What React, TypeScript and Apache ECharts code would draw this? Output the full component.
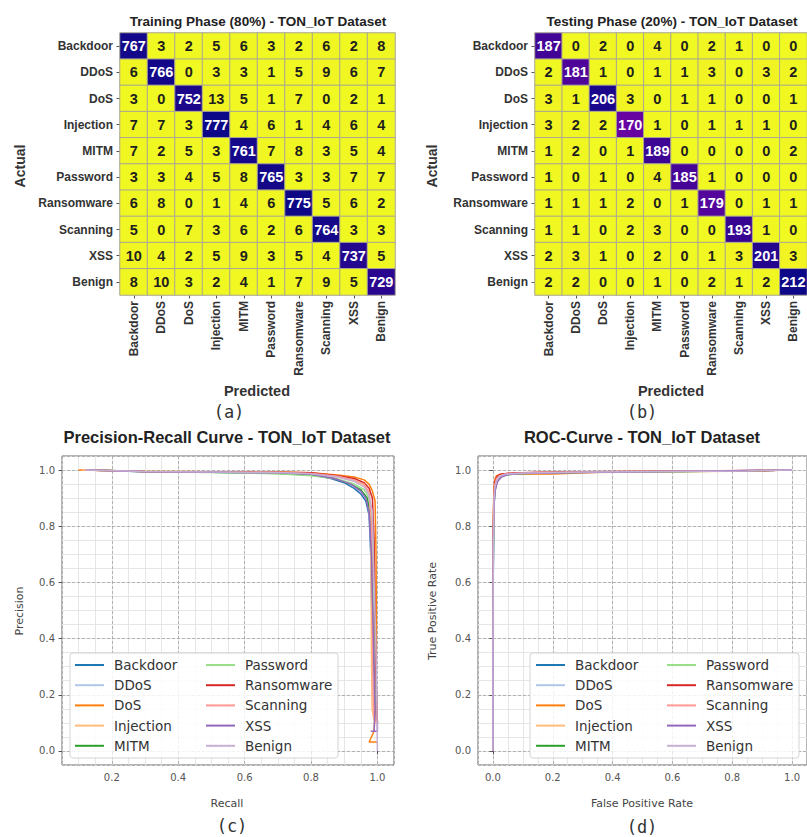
import React, { useEffect, useRef } from 'react';
import * as echarts from 'echarts';

const CLASSES = ['Backdoor', 'DDoS', 'DoS', 'Injection', 'MITM', 'Password', 'Ransomware', 'Scanning', 'XSS', 'Benign'];
const COLORS = ['#1f77b4', '#aec7e8', '#ff7f0e', '#ffbb78', '#2ca02c', '#98df8a', '#d62728', '#ff9896', '#9467bd', '#c5b0d5'];

const TRAIN_CM = [
  [767, 3, 2, 5, 6, 3, 2, 6, 2, 8],
  [6, 766, 0, 3, 3, 1, 5, 9, 6, 7],
  [3, 0, 752, 13, 5, 1, 7, 0, 2, 1],
  [7, 7, 3, 777, 4, 6, 1, 4, 6, 4],
  [7, 2, 5, 3, 761, 7, 8, 3, 5, 4],
  [3, 3, 4, 5, 8, 765, 3, 3, 7, 7],
  [6, 8, 0, 1, 4, 6, 775, 5, 6, 2],
  [5, 0, 7, 3, 6, 2, 6, 764, 3, 3],
  [10, 4, 2, 5, 9, 3, 5, 4, 737, 5],
  [8, 10, 3, 2, 4, 1, 7, 9, 5, 729],
];

const TEST_CM = [
  [187, 0, 2, 0, 4, 0, 2, 1, 0, 0],
  [2, 181, 1, 0, 1, 1, 3, 0, 3, 2],
  [3, 1, 206, 3, 0, 1, 1, 0, 0, 1],
  [3, 2, 2, 170, 1, 0, 1, 1, 1, 0],
  [1, 2, 0, 1, 189, 0, 0, 0, 0, 2],
  [1, 0, 1, 0, 4, 185, 1, 0, 0, 0],
  [1, 1, 1, 2, 0, 1, 179, 0, 1, 1],
  [1, 1, 0, 2, 3, 0, 0, 193, 1, 0],
  [2, 3, 1, 0, 2, 0, 1, 3, 201, 3],
  [2, 2, 0, 0, 1, 0, 2, 1, 2, 212],
];

// Precision-Recall curves: [recall, precision]
const PR_BACKDOOR = [[0.13, 1.0], [0.3, 0.994], [0.5, 0.992], [0.7, 0.99], [0.8, 0.984], [0.86, 0.97], [0.9, 0.955], [0.93, 0.935], [0.95, 0.915], [0.965, 0.89], [0.975, 0.84], [0.98, 0.7], [0.983, 0.5], [0.987, 0.3], [0.992, 0.18], [1.0, 0.1]];
const PR_DDOS = [[0.12, 1.0], [0.3, 0.995], [0.5, 0.993], [0.7, 0.991], [0.8, 0.986], [0.87, 0.972], [0.92, 0.95], [0.95, 0.925], [0.97, 0.89], [0.978, 0.82], [0.982, 0.6], [0.986, 0.35], [0.99, 0.2], [1.0, 0.1]];
const PR_DOS = [[0.1, 1.0], [0.3, 0.996], [0.5, 0.994], [0.7, 0.993], [0.8, 0.99], [0.88, 0.982], [0.93, 0.975], [0.96, 0.965], [0.975, 0.95], [0.985, 0.925], [0.993, 0.89], [0.996, 0.7], [0.997, 0.45], [0.996, 0.2], [0.99, 0.07], [0.975, 0.032], [0.995, 0.032], [1.0, 0.03]];
const PR_INJECTION = [[0.11, 1.0], [0.3, 0.995], [0.5, 0.993], [0.7, 0.991], [0.8, 0.987], [0.88, 0.975], [0.93, 0.96], [0.96, 0.945], [0.975, 0.92], [0.98, 0.86], [0.981, 0.6], [0.982, 0.35], [0.984, 0.15], [0.99, 0.11], [1.0, 0.1]];
const PR_MITM = [[0.14, 1.0], [0.3, 0.995], [0.5, 0.992], [0.7, 0.988], [0.8, 0.982], [0.87, 0.97], [0.92, 0.95], [0.95, 0.93], [0.97, 0.9], [0.98, 0.82], [0.985, 0.6], [0.987, 0.42], [0.99, 0.3], [0.995, 0.2], [1.0, 0.1]];
const PR_PASSWORD = [[0.12, 1.0], [0.3, 0.994], [0.5, 0.991], [0.7, 0.987], [0.8, 0.98], [0.88, 0.968], [0.93, 0.95], [0.96, 0.93], [0.975, 0.9], [0.985, 0.8], [0.99, 0.5], [0.992, 0.38], [0.995, 0.2], [1.0, 0.1]];
const PR_RANSOMWARE = [[0.12, 1.0], [0.3, 0.995], [0.5, 0.993], [0.7, 0.992], [0.8, 0.99], [0.88, 0.98], [0.93, 0.97], [0.96, 0.955], [0.975, 0.935], [0.985, 0.9], [0.99, 0.75], [0.993, 0.5], [0.995, 0.3], [1.0, 0.1]];
const PR_SCANNING = [[0.12, 1.0], [0.3, 0.995], [0.5, 0.993], [0.7, 0.991], [0.8, 0.988], [0.88, 0.978], [0.93, 0.965], [0.96, 0.95], [0.975, 0.92], [0.982, 0.8], [0.985, 0.5], [0.987, 0.2], [0.99, 0.12], [1.0, 0.1]];
const PR_XSS = [[0.13, 1.0], [0.3, 0.994], [0.5, 0.992], [0.7, 0.99], [0.8, 0.985], [0.87, 0.97], [0.92, 0.95], [0.95, 0.925], [0.965, 0.9], [0.975, 0.85], [0.982, 0.7], [0.987, 0.45], [0.99, 0.3], [0.993, 0.15], [0.99, 0.07], [0.98, 0.07], [1.0, 0.07], [1.0, 0.1]];
const PR_BENIGN = [[0.12, 1.0], [0.3, 0.995], [0.5, 0.993], [0.7, 0.991], [0.8, 0.987], [0.88, 0.975], [0.93, 0.96], [0.96, 0.94], [0.975, 0.91], [0.985, 0.85], [0.99, 0.6], [0.995, 0.4], [0.998, 0.2], [1.0, 0.0]];

// ROC curves: [fpr, tpr]
const ROC_BACKDOOR = [[0, 0], [0.0, 0.3], [0.001, 0.6], [0.002, 0.82], [0.004, 0.9], [0.008, 0.94], [0.015, 0.965], [0.025, 0.978], [0.04, 0.985], [0.08, 0.988], [0.2, 0.99], [0.4, 0.993], [0.6, 0.995], [0.8, 0.997], [1.0, 1.0]];
const ROC_DDOS = [[0, 0], [0.0, 0.35], [0.001, 0.7], [0.003, 0.88], [0.006, 0.93], [0.012, 0.96], [0.02, 0.975], [0.035, 0.984], [0.07, 0.989], [0.2, 0.991], [0.45, 0.994], [0.7, 0.996], [1.0, 1.0]];
const ROC_DOS = [[0, 0], [0.0, 0.5], [0.001, 0.8], [0.003, 0.93], [0.006, 0.965], [0.012, 0.98], [0.03, 0.986], [0.1, 0.985], [0.2, 0.986], [0.35, 0.992], [0.6, 0.995], [0.85, 0.997], [1.0, 1.0]];
const ROC_INJECTION = [[0, 0], [0.0, 0.4], [0.0, 0.7], [0.002, 0.86], [0.005, 0.93], [0.01, 0.96], [0.02, 0.976], [0.04, 0.984], [0.1, 0.987], [0.25, 0.99], [0.5, 0.993], [0.8, 0.996], [1.0, 1.0]];
const ROC_MITM = [[0, 0], [0.0, 0.3], [0.001, 0.65], [0.003, 0.86], [0.006, 0.92], [0.012, 0.955], [0.022, 0.972], [0.04, 0.982], [0.08, 0.987], [0.2, 0.99], [0.45, 0.994], [0.75, 0.996], [1.0, 1.0]];
const ROC_PASSWORD = [[0, 0], [0.0, 0.32], [0.001, 0.68], [0.003, 0.87], [0.006, 0.925], [0.012, 0.958], [0.022, 0.974], [0.04, 0.983], [0.09, 0.988], [0.22, 0.991], [0.5, 0.994], [0.8, 0.997], [1.0, 1.0]];
const ROC_RANSOMWARE = [[0, 0], [0.0, 0.45], [0.001, 0.78], [0.003, 0.91], [0.006, 0.955], [0.012, 0.975], [0.022, 0.984], [0.05, 0.989], [0.15, 0.992], [0.4, 0.995], [0.7, 0.997], [0.92, 0.998], [1.0, 1.0]];
const ROC_SCANNING = [[0, 0], [0.0, 0.4], [0.001, 0.75], [0.003, 0.9], [0.006, 0.945], [0.012, 0.97], [0.022, 0.98], [0.045, 0.986], [0.12, 0.99], [0.3, 0.993], [0.6, 0.996], [1.0, 1.0]];
const ROC_XSS = [[0, 0], [0.0, 0.3], [0.001, 0.62], [0.002, 0.8], [0.004, 0.88], [0.008, 0.93], [0.015, 0.958], [0.028, 0.975], [0.05, 0.984], [0.1, 0.988], [0.3, 0.991], [0.6, 0.995], [1.0, 1.0]];
const ROC_BENIGN = [[0, 0], [0.0, 0.35], [0.001, 0.7], [0.003, 0.88], [0.006, 0.935], [0.012, 0.962], [0.022, 0.977], [0.04, 0.985], [0.09, 0.989], [0.25, 0.992], [0.55, 0.995], [0.85, 0.997], [1.0, 1.0]];

const PR_CURVES = [PR_BACKDOOR, PR_DDOS, PR_DOS, PR_INJECTION, PR_MITM, PR_PASSWORD, PR_RANSOMWARE, PR_SCANNING, PR_XSS, PR_BENIGN];
const ROC_CURVES = [ROC_BACKDOOR, ROC_DDOS, ROC_DOS, ROC_INJECTION, ROC_MITM, ROC_PASSWORD, ROC_RANSOMWARE, ROC_SCANNING, ROC_XSS, ROC_BENIGN];

const PLASMA_R = ['#f0f921', '#fca636', '#cc4778', '#7e03a8', '#0d0887'];

const ARIAL = '"Liberation Sans", Arial, sans-serif';
const DEJAVU = '"DejaVu Sans", sans-serif';

function cmData(cm: number[][], max: number) {
  const out: any[] = [];
  cm.forEach((row, r) =>
    row.forEach((v, c) => {
      out.push({ value: [c, r, v], label: { color: v > max / 2 ? '#ffffff' : '#1e1e1e' } });
    })
  );
  return out;
}

function heatAxes(gi: number) {
  const labelCommon = { fontFamily: ARIAL, fontWeight: 'bold', fontSize: 12, color: '#333', interval: 0 };
  const tick = { show: true, length: 3.5, alignWithLabel: true, lineStyle: { color: '#555', width: 1 } };
  return {
    x: {
      type: 'category', gridIndex: gi, data: CLASSES, position: 'bottom',
      axisLine: { show: false }, axisTick: tick,
      axisLabel: { ...labelCommon, rotate: 90, margin: 6 },
      splitLine: { show: false }, splitArea: { show: false },
    },
    y: {
      type: 'category', gridIndex: gi, data: CLASSES, inverse: true,
      axisLine: { show: false }, axisTick: tick,
      axisLabel: { ...labelCommon, margin: 7 },
      splitLine: { show: false }, splitArea: { show: false },
    },
  };
}

function lineAxes(gi: number, xmin: number, xmax: number) {
  const fmt = (v: number) => v.toFixed(1);
  const label = { fontFamily: DEJAVU, fontSize: 10, color: '#555', showMinLabel: false, showMaxLabel: false, formatter: fmt };
  const major = { show: true, lineStyle: { type: [3, 2], color: '#aaaaaa', width: 0.9 } };
  const minor = { show: true, lineStyle: { color: '#e0e0e0', width: 0.8 } };
  const tick = { show: true, length: 3.5, lineStyle: { color: '#555' } };
  return {
    xs: [
      { type: 'value', gridIndex: gi, min: xmin, max: xmax, position: 'bottom', z: 1, axisLine: { show: false }, axisTick: tick, axisLabel: { ...label, margin: 7 }, splitLine: major },
      { type: 'value', gridIndex: gi, min: xmin, max: xmax, interval: 0.05, position: 'top', z: 0, axisLine: { show: false }, axisTick: { show: false }, axisLabel: { show: false }, splitLine: minor },
    ],
    ys: [
      { type: 'value', gridIndex: gi, min: -0.05, max: 1.05, position: 'left', z: 1, axisLine: { show: false }, axisTick: tick, axisLabel: { ...label, margin: 7 }, splitLine: major },
      { type: 'value', gridIndex: gi, min: -0.05, max: 1.05, interval: 0.05, position: 'right', z: 0, axisLine: { show: false }, axisTick: { show: false }, axisLabel: { show: false }, splitLine: minor },
    ],
  };
}

function txt(x: number, y: number, text: string, font: string, fill: string, rotation = 0) {
  return {
    type: 'text', x, y, rotation, z: 10,
    style: { text, font, fill, textAlign: 'center', textVerticalAlign: 'middle', align: 'center', verticalAlign: 'middle' },
  };
}

function legendPair(left1: number, left2: number, top: number) {
  const common = {
    orient: 'vertical', top, icon: 'rect', itemWidth: 29, itemHeight: 2, itemGap: 6.2,
    selectedMode: false, padding: 0,
    textStyle: { fontFamily: DEJAVU, fontSize: 13.5, color: '#333', lineHeight: 14, padding: [0, 0, 0, 5] },
  };
  return [
    { ...common, left: left1, data: CLASSES.slice(0, 5) },
    { ...common, left: left2, data: CLASSES.slice(5) },
  ];
}

export default function App() {
  const ref = useRef<HTMLDivElement>(null);
  useEffect(() => {
    document.body.style.margin = '0';
    if (!ref.current) return;
    const chart = echarts.init(ref.current, undefined, { renderer: 'svg' });
    const ha = heatAxes(0);
    const hb = heatAxes(1);
    const lc = lineAxes(2, 0.05, 1.05);
    const ld = lineAxes(3, -0.05, 1.05);

    const heatSeries = (idx: number, cm: number[][], max: number) => ({
      type: 'heatmap', xAxisIndex: idx, yAxisIndex: idx, data: cmData(cm, max),
      label: { show: true, fontFamily: ARIAL, fontWeight: 'bold', fontSize: 14.5 },
      itemStyle: { borderColor: '#a9a596', borderWidth: 1 },
      emphasis: { disabled: true },
    });

    const lineSeries = (curves: number[][][], xIdx: number, yIdx: number) =>
      curves.map((d, i) => ({
        type: 'line', name: CLASSES[i], xAxisIndex: xIdx, yAxisIndex: yIdx, data: d,
        symbol: 'none', showSymbol: false, color: COLORS[i],
        lineStyle: { color: COLORS[i], width: 1.5 }, itemStyle: { color: COLORS[i] },
        emphasis: { disabled: true }, z: 2 + i * 0.01,
      }));

    const option: any = {
      animation: false,
      backgroundColor: '#ffffff',
      grid: [
        { left: 120, top: 33, width: 275, height: 262, show: false },
        { left: 535, top: 33, width: 275, height: 262, show: false },
        { left: 62, top: 456, width: 332, height: 309, show: true, borderColor: '#666', borderWidth: 1, backgroundColor: 'transparent' },
        { left: 478, top: 456, width: 330, height: 309, show: true, borderColor: '#666', borderWidth: 1, backgroundColor: 'transparent' },
      ],
      xAxis: [ha.x, hb.x, ...lc.xs, ...ld.xs],
      yAxis: [ha.y, hb.y, ...lc.ys, ...ld.ys],
      visualMap: [
        { type: 'continuous', show: false, seriesIndex: 0, min: 0, max: 777, inRange: { color: PLASMA_R } },
        { type: 'continuous', show: false, seriesIndex: 1, min: 0, max: 212, inRange: { color: PLASMA_R } },
      ],
      legend: [...legendPair(75, 206, 658), ...legendPair(536, 667, 658)],
      series: [
        heatSeries(0, TRAIN_CM, 777),
        heatSeries(1, TEST_CM, 212),
        ...lineSeries(PR_CURVES, 2, 2),
        ...lineSeries(ROC_CURVES, 4, 4),
      ],
      graphic: [
        { type: 'rect', z: 3, shape: { x: 70, y: 653, width: 268, height: 105, r: 3 }, style: { fill: 'rgba(255,255,255,0.85)', stroke: '#d4d4d4', lineWidth: 1 } },
        { type: 'rect', z: 3, shape: { x: 530, y: 653, width: 269, height: 105, r: 3 }, style: { fill: 'rgba(255,255,255,0.85)', stroke: '#d4d4d4', lineWidth: 1 } },
        txt(258, 21, 'Training Phase (80%) - TON_IoT Dataset', `bold 13.5px ${ARIAL}`, '#222'),
        txt(672, 21, 'Testing Phase (20%) - TON_IoT Dataset', `bold 13.5px ${ARIAL}`, '#222'),
        txt(20, 166, 'Actual', `bold 14px ${ARIAL}`, '#333', Math.PI / 2),
        txt(432, 166, 'Actual', `bold 14px ${ARIAL}`, '#333', Math.PI / 2),
        txt(257, 391, 'Predicted', `bold 14.5px ${ARIAL}`, '#333'),
        txt(671, 391, 'Predicted', `bold 14.5px ${ARIAL}`, '#333'),
        txt(229, 412, '(a)', `17px "DejaVu Sans Mono", monospace`, '#333'),
        txt(642, 412, '(b)', `17px "DejaVu Sans Mono", monospace`, '#333'),
        txt(227, 437, 'Precision-Recall Curve - TON_IoT Dataset', `bold 16.5px ${ARIAL}`, '#222'),
        txt(642, 437, 'ROC-Curve - TON_IoT Dataset', `bold 16.5px ${ARIAL}`, '#222'),
        txt(227, 803, 'Recall', `11px ${DEJAVU}`, '#444'),
        txt(642, 803, 'False Positive Rate', `11px ${DEJAVU}`, '#444'),
        txt(19, 611, 'Precision', `11px ${DEJAVU}`, '#444', Math.PI / 2),
        txt(432, 611, 'True Positive Rate', `11px ${DEJAVU}`, '#444', Math.PI / 2),
        txt(232, 826, '(c)', `17px "DejaVu Sans Mono", monospace`, '#333'),
        txt(642, 827, '(d)', `17px "DejaVu Sans Mono", monospace`, '#333'),
      ],
    };
    chart.setOption(option);
    return () => chart.dispose();
  }, []);
  return <div ref={ref} style={{ width: 807, height: 837 }} />;
}
